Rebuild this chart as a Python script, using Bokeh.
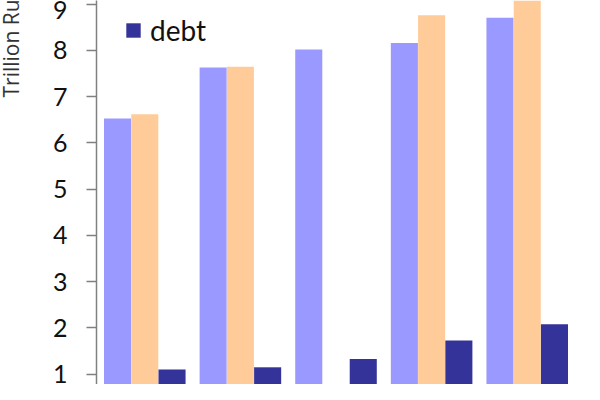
from bokeh.plotting import figure
from bokeh.layouts import row
from bokeh.models import Range1d, Legend, LegendItem, FixedTicker, ColumnDataSource
from bokeh.core.properties import value
from bokeh.embed import file_html
from bokeh.resources import INLINE
import math

# ---- data ----
groups = ["1", "2", "3", "4", "5"]
series_a = [6.53, 7.63, 8.02, 8.16, 8.71]          # light purple bars
series_b = [6.62, 7.65, float("nan"), 8.76, 9.40]  # peach bars (none in group 3)
debt = [1.10, 1.15, 1.33, 1.73, 2.08]               # dark blue bars
y_ticks = [1, 2, 3, 4, 5, 6, 7, 8, 9]
y_label = "Trillion Rupiah"

C_A = "#9999FF"
C_B = "#FFCC99"
C_DEBT = "#333399"

H = 384
LW = 24          # narrow strip holding the rotated unit label
W = 584 - LW

# --- strip with the rotated unit label (cut off at the top, as in the reference)
lab = figure(width=LW, height=H, output_backend="svg", toolbar_location=None,
             x_range=Range1d(0, LW), y_range=Range1d(0, H),
             min_border_left=0, min_border_right=0, min_border_top=0, min_border_bottom=0)
lab.axis.visible = False
lab.grid.visible = False
lab.outline_line_color = None
lab.text(x=[10], y=[H - 97], text=[y_label], angle=math.pi / 2,
         text_font=value("Open Sans"), text_font_size="21px", text_color="#333333",
         text_align="left", text_baseline="middle")

# --- main chart
p = figure(width=W, height=H, output_backend="svg", toolbar_location=None,
           x_range=Range1d(-0.505, 4.599), y_range=Range1d(0.778, 9.081),
           min_border_left=96 - LW, min_border_right=0, min_border_top=0, min_border_bottom=0)

xs = list(range(len(groups)))
bw = 0.283
off = 0.285
src = ColumnDataSource(dict(
    xa=[x - off for x in xs], xb=xs, xd=[x + off for x in xs],
    a=series_a, b=series_b, d=debt))

p.vbar(x="xa", top="a", bottom=0, width=bw, source=src, fill_color=C_A, line_color=None)
p.vbar(x="xb", top="b", bottom=0, width=bw, source=src, fill_color=C_B, line_color=None)
r_debt = p.vbar(x="xd", top="d", bottom=0, width=bw, source=src, fill_color=C_DEBT, line_color=None)

p.xaxis.visible = False
p.xgrid.visible = False
p.ygrid.visible = False
p.outline_line_color = None

yax = p.yaxis[0]
yax.ticker = FixedTicker(ticks=y_ticks)
yax.minor_tick_line_color = None
yax.major_tick_in = 0
yax.major_tick_out = 10
yax.major_tick_line_color = "#808080"
yax.major_tick_line_width = 1.5
yax.axis_line_color = "#808080"
yax.axis_line_width = 1.5
yax.major_label_text_font = "Lato"
yax.major_label_text_font_size = "25px"
yax.major_label_text_color = "#111111"
yax.major_label_standoff = 19

legend = Legend(items=[LegendItem(label="debt", renderers=[r_debt])],
                location=(28, 337), orientation="vertical",
                glyph_width=18, glyph_height=18, label_height=18,
                label_standoff=8, padding=0, margin=0, spacing=0,
                label_text_font="Lato", label_text_font_size="28px",
                label_text_color="#111111", label_text_baseline="middle",
                border_line_color=None, background_fill_alpha=0)
p.add_layout(legend)

layout = row(lab, p, spacing=0)
open("out.html", "w").write(file_html(layout, INLINE))
